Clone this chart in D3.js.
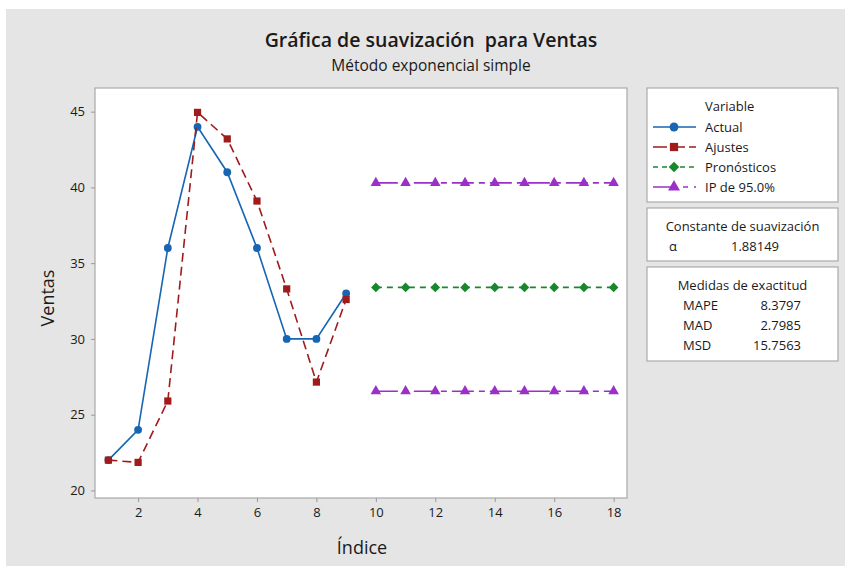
<!DOCTYPE html>
<html>
<head>
<meta charset="utf-8">
<script src="https://cdn.jsdelivr.net/npm/d3@7"></script>
<style>
  body { margin: 0; background: #fff; }
  svg text { font-family: "Open Sans", "Noto Sans", sans-serif; fill: #1a1a1a; }
</style>
</head>
<body>
<div id="grafico"></div>
<script>
// datos
const indice      = [1, 2, 3, 4, 5, 6, 7, 8, 9];
const actual      = [22, 24, 36, 44, 41, 36, 30, 30, 33];
const ajustes     = [22, 21.85, 25.9, 44.95, 43.2, 39.1, 33.3, 27.15, 32.6];
const indiceProno = [10, 11, 12, 13, 14, 15, 16, 17, 18];
const pronosticos = [33.4, 33.4, 33.4, 33.4, 33.4, 33.4, 33.4, 33.4, 33.4];
const ipSuperior  = [40.3, 40.3, 40.3, 40.3, 40.3, 40.3, 40.3, 40.3, 40.3];
const ipInferior  = [26.55, 26.55, 26.55, 26.55, 26.55, 26.55, 26.55, 26.55, 26.55];
const xTicks = [2, 4, 6, 8, 10, 12, 14, 16, 18];
const yTicks = [20, 25, 30, 35, 40, 45];
const medidas = [["MAPE", "8.3797"], ["MAD", "2.7985"], ["MSD", "15.7563"]];

const width = 845, height = 569;
const plot = { left: 95, top: 88, right: 627, bottom: 498 };

const colors = {
  actual: "#1765b3",
  ajustes: "#a01b1b",
  prono: "#18882c",
  ip: "#9b30c8"
};

const svg = d3.select("#grafico")
  .append("svg")
  .attr("width", width)
  .attr("height", height);

svg.append("rect")
  .attr("x", 6).attr("y", 9)
  .attr("width", width - 6).attr("height", height - 12)
  .attr("fill", "#e5e5e5");

const xScale = d3.scaleLinear().domain([0.55, 18.45]).range([plot.left, plot.right]);
const yScale = d3.scaleLinear().domain([19.5, 46.56]).range([plot.bottom, plot.top]);

svg.append("rect")
  .attr("x", plot.left).attr("y", plot.top)
  .attr("width", plot.right - plot.left).attr("height", plot.bottom - plot.top)
  .attr("fill", "#fff")
  .attr("stroke", "#a9a9a9")
  .attr("stroke-width", 1.2);

const xAxis = svg.append("g")
  .attr("transform", `translate(0, ${plot.bottom})`)
  .call(d3.axisBottom(xScale).tickValues(xTicks).tickSize(4).tickPadding(6));
const yAxis = svg.append("g")
  .attr("transform", `translate(${plot.left}, 0)`)
  .call(d3.axisLeft(yScale).tickValues(yTicks).tickSize(4).tickPadding(6));

[xAxis, yAxis].forEach(a => {
  a.select(".domain").remove();
  a.selectAll(".tick line").attr("stroke", "#999");
  a.selectAll(".tick text").attr("font-size", "13px").attr("fill", "#1a1a1a")
   .attr("font-family", "\"Open Sans\", sans-serif");
});

svg.append("text")
  .attr("x", 431).attr("y", 47)
  .attr("text-anchor", "middle")
  .attr("font-size", "19.5px")
  .attr("font-weight", 600)
  .text("Gráfica de suavización  para Ventas")
  .style("white-space", "pre");

svg.append("text")
  .attr("x", 431).attr("y", 71)
  .attr("text-anchor", "middle")
  .attr("font-size", "15.5px")
  .text("Método exponencial simple");

svg.append("text")
  .attr("x", 362).attr("y", 554)
  .attr("text-anchor", "middle")
  .attr("font-size", "18px")
  .text("Índice");

svg.append("text")
  .attr("transform", "translate(54, 298) rotate(-90)")
  .attr("text-anchor", "middle")
  .attr("font-size", "18px")
  .text("Ventas");

const line = d3.line().x(d => xScale(d[0])).y(d => yScale(d[1]));

// rombo: cuadrado girado 45 grados
function simbolo(type, size) {
  const rot = type === "rombo" ? " rotate(45)" : "";
  const t = type === "rombo" ? d3.symbolSquare : type;
  return { d: d3.symbol().type(t).size(size)(), rot: rot };
}

function serie(xs, ys, color, dash, symbol, size) {
  const pts = xs.map((x, i) => [x, ys[i]]);
  const s = simbolo(symbol, size);
  svg.append("path")
    .datum(pts)
    .attr("d", line)
    .attr("fill", "none")
    .attr("stroke", color)
    .attr("stroke-width", 1.6)
    .attr("stroke-dasharray", dash);
  svg.append("g").selectAll("path")
    .data(pts)
    .enter()
    .append("path")
    .attr("transform", d => `translate(${xScale(d[0])}, ${yScale(d[1])})${s.rot}`)
    .attr("d", s.d)
    .attr("fill", color);
}

serie(indice, actual, colors.actual, null, d3.symbolCircle, 48);
serie(indice, ajustes, colors.ajustes, "9,5", d3.symbolSquare, 52);
serie(indiceProno, pronosticos, colors.prono, "6,5", "rombo", 46);
serie(indiceProno, ipSuperior, colors.ip, "22,5,6,5", d3.symbolTriangle, 48);
serie(indiceProno, ipInferior, colors.ip, "22,5,6,5", d3.symbolTriangle, 48);

// leyenda
const boxX = 647, boxW = 191;
const boxes = [[88, 114], [208, 53], [267, 94]];
boxes.forEach(b => {
  svg.append("rect")
    .attr("x", boxX).attr("y", b[0])
    .attr("width", boxW).attr("height", b[1])
    .attr("fill", "#fff")
    .attr("stroke", "#aaa")
    .attr("stroke-width", 1.2);
});

svg.append("text")
  .attr("x", 705).attr("y", 111)
  .attr("font-size", "13px")
  .text("Variable");

const leyenda = [
  ["Actual", colors.actual, null, d3.symbolCircle, 62],
  ["Ajustes", colors.ajustes, "14,4", d3.symbolSquare, 68],
  ["Pronósticos", colors.prono, "5,4", "rombo", 56],
  ["IP de 95.0%", colors.ip, "24,6,5,6", d3.symbolTriangle, 62]
];

leyenda.forEach((d, i) => {
  const y = 127 + i * 20;
  const s = simbolo(d[3], d[4]);
  svg.append("line")
    .attr("x1", 653).attr("x2", 696)
    .attr("y1", y).attr("y2", y)
    .attr("stroke", d[1])
    .attr("stroke-width", 1.6)
    .attr("stroke-dasharray", d[2]);
  svg.append("path")
    .attr("transform", `translate(674, ${y})${s.rot}`)
    .attr("d", s.d)
    .attr("fill", d[1]);
  svg.append("text")
    .attr("x", 705).attr("y", y + 5)
    .attr("font-size", "13px")
    .text(d[0]);
});

svg.append("text")
  .attr("x", boxX + boxW / 2).attr("y", 231)
  .attr("text-anchor", "middle")
  .attr("font-size", "13px")
  .text("Constante de suavización");
svg.append("text")
  .attr("x", 673).attr("y", 251)
  .attr("text-anchor", "middle")
  .attr("font-size", "13px")
  .text("α");
svg.append("text")
  .attr("x", 731).attr("y", 251)
  .attr("font-size", "13px")
  .text("1.88149");

svg.append("text")
  .attr("x", boxX + boxW / 2).attr("y", 290)
  .attr("text-anchor", "middle")
  .attr("font-size", "13px")
  .text("Medidas de exactitud");

medidas.forEach((m, i) => {
  const y = 310 + i * 20;
  svg.append("text")
    .attr("x", 683).attr("y", y)
    .attr("font-size", "13px")
    .text(m[0]);
  svg.append("text")
    .attr("x", 801).attr("y", y)
    .attr("text-anchor", "end")
    .attr("font-size", "13px")
    .text(m[1]);
});
</script>
</body>
</html>
